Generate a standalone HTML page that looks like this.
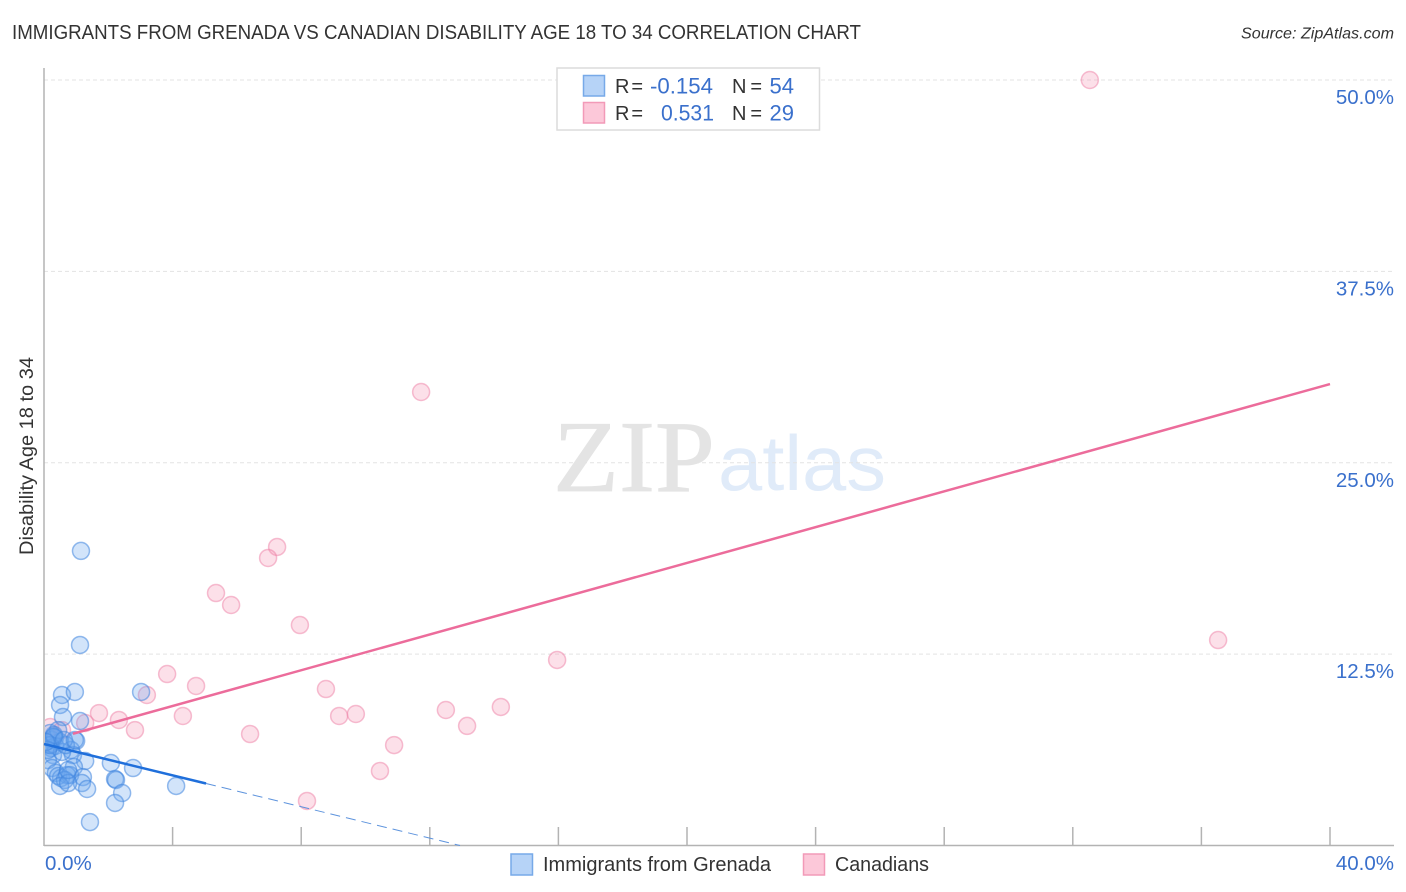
<!DOCTYPE html>
<html lang="en">
<head>
<meta charset="utf-8">
<title>Immigrants from Grenada vs Canadian Disability Age 18 to 34 Correlation Chart</title>
<style>
html,body{margin:0;padding:0;background:#fff;}
svg{display:block;font-family:"Liberation Sans",sans-serif;}
</style>
</head>
<body>
<svg id="chart" width="1406" height="892" viewBox="0 0 1406 892" xmlns="http://www.w3.org/2000/svg">
  <defs>
    <clipPath id="plot-clip"><rect x="45" y="60" width="1350" height="786"/></clipPath>
  </defs>
  <g id="watermark">
    <text x="553" y="491" font-family="Liberation Serif, serif" font-size="102" fill="#e4e4e4" stroke="#e4e4e4" stroke-width="0.800" textLength="162" lengthAdjust="spacingAndGlyphs">ZIP</text>
    <text x="718" y="490" font-size="78" fill="#e0ebf9" textLength="168" lengthAdjust="spacingAndGlyphs">atlas</text>
  </g>
  <g id="grid"></g>
  <g id="points" clip-path="url(#plot-clip)"></g>
  <g id="axes"></g>
  <g id="trends"></g>
  <g id="ticklabels"></g>

  <text x="12" y="39" font-size="20" fill="#333" textLength="849" lengthAdjust="spacingAndGlyphs">IMMIGRANTS FROM GRENADA VS CANADIAN DISABILITY AGE 18 TO 34 CORRELATION CHART</text>
  <text x="1241" y="38.5" font-size="16" font-style="italic" fill="#333" textLength="153" lengthAdjust="spacingAndGlyphs">Source: ZipAtlas.com</text>
  <text transform="translate(33,456) rotate(-90)" font-size="19" fill="#333" text-anchor="middle" textLength="198" lengthAdjust="spacingAndGlyphs">Disability Age 18 to 34</text>

  <g>
    <rect x="557" y="68" width="262.500" height="62" fill="#fff" stroke="#dcdcdc" stroke-width="1.500"/>
    <rect x="583.500" y="75.500" width="21" height="20.500" fill="#b6d3f7" stroke="#77a9e8" stroke-width="1.500"/>
    <rect x="583.500" y="102.500" width="21" height="20.500" fill="#fcc8d9" stroke="#f29ab8" stroke-width="1.500"/>
    <g font-size="20" fill="#333">
      <text x="615" y="93" textLength="28" lengthAdjust="spacing">R =</text>
      <text x="615" y="120" textLength="28" lengthAdjust="spacing">R =</text>
      <text x="732" y="93" textLength="30" lengthAdjust="spacing">N =</text>
      <text x="732" y="120" textLength="30" lengthAdjust="spacing">N =</text>
    </g>
    <g font-size="22" fill="#3a70cc">
      <text x="650" y="93.500" textLength="63" lengthAdjust="spacingAndGlyphs">-0.154</text>
      <text x="661" y="120.500" textLength="53" lengthAdjust="spacingAndGlyphs">0.531</text>
      <text x="794" y="93.500" text-anchor="end">54</text>
      <text x="794" y="120.500" text-anchor="end">29</text>
    </g>
  </g>

  <g>
    <rect x="511" y="854" width="21.500" height="21" fill="#b6d3f7" stroke="#77a9e8" stroke-width="1.500"/>
    <text x="543" y="871" font-size="20" fill="#333" textLength="228" lengthAdjust="spacingAndGlyphs">Immigrants from Grenada</text>
    <rect x="803.500" y="854" width="21" height="21" fill="#fcc8d9" stroke="#f29ab8" stroke-width="1.500"/>
    <text x="835" y="871" font-size="20" fill="#333" textLength="94" lengthAdjust="spacingAndGlyphs">Canadians</text>
  </g>
</svg>
<script>
var yTickValues = [12.5, 25, 37.5, 50];
var yTickLabels = ["12.5%", "25.0%", "37.5%", "50.0%"];
var xTickValues = [0, 4, 8, 12, 16, 20, 24, 28, 32, 36, 40];
var xEdgeLabels = ["0.0%", "40.0%"];

var grenadaX = [1.15,1.12,0.56,0.96,3.02,0.50,0.59,1.12,0.19,0.25,0.12,0.34,0.50,0.30,0.35,1.00,0.22,0.28,0.12,0.84,0.90,1.28,0.25,0.37,0.93,0.53,0.44,0.72,0.81,1.21,0.65,0.50,1.18,1.34,2.08,2.77,2.21,2.24,4.11,2.43,2.21,1.43,0.75,0.56,0.68,0.44,0.30,0.19,0.31,0.62,0.12,0.06,0.96,0.75];
var grenadaY = [19.24,13.10,9.83,10.03,10.03,9.18,8.39,8.13,7.35,6.89,6.56,7.02,6.76,7.09,6.50,6.83,6.37,5.91,5.58,6.24,5.91,5.52,5.06,4.74,5.13,4.41,4.54,4.60,4.60,4.47,4.28,3.89,4.08,3.69,5.39,5.06,4.34,4.28,3.89,3.43,2.78,1.53,4.08,6.11,6.56,7.54,7.10,6.56,7.22,6.89,6.24,6.76,6.89,4.93];

var canadiansX = [32.53,11.73,7.25,6.97,5.35,5.82,7.96,15.96,36.52,3.83,4.73,8.77,3.20,1.71,2.33,2.83,4.32,9.18,9.70,12.50,14.21,13.16,6.41,10.89,10.45,8.18,1.28,0.19,0.56];
var canadiansY = [50.00,29.62,19.50,18.78,16.49,15.71,14.40,12.12,13.42,11.20,10.42,10.22,9.83,8.65,8.20,7.54,8.46,8.46,8.59,8.85,9.05,7.81,7.28,6.56,4.87,2.91,8.00,7.74,7.54];

var grenadaTrendX = [0, 5.04];
var grenadaTrendY = [6.63, 4.05];
var grenadaDashX = [5.04, 12.94];
var grenadaDashY = [4.05, 0];
var canadiansTrendX = [0.9, 40];
var canadiansTrendY = [7.3, 30.14];

var NS = "http://www.w3.org/2000/svg";
function xScale(v) { return 44 + v * 32.15; }
function yScale(v) { return 845.5 - v * 15.31; }
function make(tag, parent, attrs) {
  var el = document.createElementNS(NS, tag);
  for (var k in attrs) { el.setAttribute(k, attrs[k]); }
  document.getElementById(parent).appendChild(el);
  return el;
}

yTickValues.forEach(function (v, i) {
  var line = make("line", "grid", {x1: 44, x2: 1394, y1: yScale(v), y2: yScale(v), stroke: "#e3e3e3", "stroke-width": 1, "stroke-dasharray": "4 3"});
  
  
  var label = make("text", "ticklabels", {x: 1394, y: yScale(v) + 24, "font-size": 20.5, fill: "#3a70cc", "text-anchor": "end"});
  label.textContent = yTickLabels[i];
  
  
});

var yAxis = make("line", "axes", {x1: 44, x2: 44, y1: 68, y2: 846, stroke: "#b3b3b3", "stroke-width": 1.5});


var xAxis = make("line", "axes", {x1: 44, x2: 1394, y1: 845.5, y2: 845.5, stroke: "#b3b3b3", "stroke-width": 1.5});


xTickValues.slice(1).forEach(function (v) {
  var tick = make("line", "axes", {x1: xScale(v), x2: xScale(v), y1: 827, y2: 845, stroke: "#b3b3b3", "stroke-width": 1.5});
  
  
});

var xLabelMin = make("text", "ticklabels", {x: xScale(xTickValues[0]) + 1, y: 870, "font-size": 20.5, fill: "#3a70cc"});
xLabelMin.textContent = xEdgeLabels[0];


var xLabelMax = make("text", "ticklabels", {x: 1394, y: 870, "font-size": 20.5, fill: "#3a70cc", "text-anchor": "end"});
xLabelMax.textContent = xEdgeLabels[1];



canadiansX.forEach(function (v, i) {
  var c = make("circle", "points", {cx: xScale(v), cy: yScale(canadiansY[i]), r: 8.500, fill: "#f48fb1", "fill-opacity": 0.28, stroke: "#ee80a6", "stroke-opacity": 0.5, "stroke-width": 1.500});
  
  
});
grenadaX.forEach(function (v, i) {
  var c = make("circle", "points", {cx: xScale(v), cy: yScale(grenadaY[i]), r: 8.500, fill: "#6aa6ee", "fill-opacity": 0.3, stroke: "#3f85de", "stroke-opacity": 0.55, "stroke-width": 1.500});
  
  
});

var pinkLine = make("line", "trends", {x1: xScale(canadiansTrendX[0]), y1: yScale(canadiansTrendY[0]), x2: xScale(canadiansTrendX[1]), y2: yScale(canadiansTrendY[1]), stroke: "#ec6c9b", "stroke-width": 2.500});


var blueLine = make("line", "trends", {x1: xScale(grenadaTrendX[0]), y1: yScale(grenadaTrendY[0]), x2: xScale(grenadaTrendX[1]), y2: yScale(grenadaTrendY[1]), stroke: "#1f6fdb", "stroke-width": 2.500});


var blueDash = make("line", "trends", {x1: xScale(grenadaDashX[0]), y1: yScale(grenadaDashY[0]), x2: xScale(grenadaDashX[1]), y2: yScale(grenadaDashY[1]), stroke: "#5d93dd", "stroke-width": 1, "stroke-dasharray": "10 6"});


</script>
</body>
</html>
